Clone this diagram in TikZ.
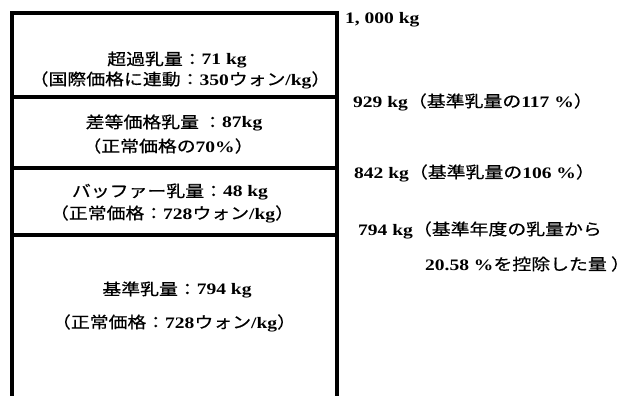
\documentclass[tikz,border=0pt]{standalone}
\usepackage{fontspec}
\setmainfont{Liberation Serif}[FakeStretch=1.22]
\newfontfamily\jp{Noto Sans CJK JP}[FakeStretch=1.18, FakeBold=0.6]
\tikzset{
  frame/.style={line width=3.2pt, line cap=rect},
  boxtext/.style={font=\fontsize{16}{19}\selectfont\bfseries, inner sep=0pt, anchor=center},
  sidetext/.style={font=\fontsize{16}{19}\selectfont\bfseries, inner sep=0pt, anchor=west},
}
\begin{document}
\begin{tikzpicture}[x=1pt,y=-1pt]
\useasboundingbox (0,0) rectangle (640,396);
\clip (0,0) rectangle (640,396);
% frame corners and levels
\coordinate (tl) at (12,13);
\coordinate (tr) at (337,13);
\coordinate (bl) at (12,400);
\coordinate (br) at (337,400);
\coordinate (l1) at (12,97);  \coordinate (r1) at (337,97);
\coordinate (l2) at (12,168); \coordinate (r2) at (337,168);
\coordinate (l3) at (12,235); \coordinate (r3) at (337,235);
\draw[frame] (bl) -- (tl) -- (tr) -- (br);
\draw[frame] (l1) -- (r1);
\draw[frame] (l2) -- (r2);
\draw[frame] (l3) -- (r3);
% box texts
\node[boxtext] (a1) at (177,60) {{\jp\mdseries 超過乳量：}71 kg};
\node[boxtext] (a2) at (180,80) {{\jp\mdseries （国際価格に連動：}350{\jp\mdseries ウォン}/kg{\jp\mdseries ）}};
\node[boxtext] (b1) at (174,123) {{\jp\mdseries 差等価格乳量 ：}87kg};
\node[boxtext] (b2) at (168,146) {{\jp\mdseries （正常価格の}70\%{\jp\mdseries ）}};
\node[boxtext] (c1) at (170,192) {{\jp\mdseries バッファー乳量：}48 kg};
\node[boxtext] (c2) at (172,214) {{\jp\mdseries （正常価格：}728{\jp\mdseries ウォン}/kg{\jp\mdseries ）}};
\node[boxtext] (d1) at (177,290) {{\jp\mdseries 基準乳量：}794 kg};
\node[boxtext] (d2) at (174,323) {{\jp\mdseries （正常価格：}728{\jp\mdseries ウォン}/kg{\jp\mdseries ）}};
% side labels
\node[sidetext] (e0) at (345,20) {1, 000 kg};
\node[sidetext] (e1) at (353,102) {929 kg{\jp\mdseries （基準乳量の}117 \%{\jp\mdseries ）}};
\node[sidetext] (e2) at (354,173) {842 kg{\jp\mdseries （基準乳量の}106 \%{\jp\mdseries ）}};
\node[sidetext] (e3) at (358,230) {794 kg{\jp\mdseries （基準年度の乳量から}};
\node[sidetext] (e4) at (425,264) {20.58 \%{\jp\mdseries を控除した量 ）}};
\end{tikzpicture}
\end{document}
